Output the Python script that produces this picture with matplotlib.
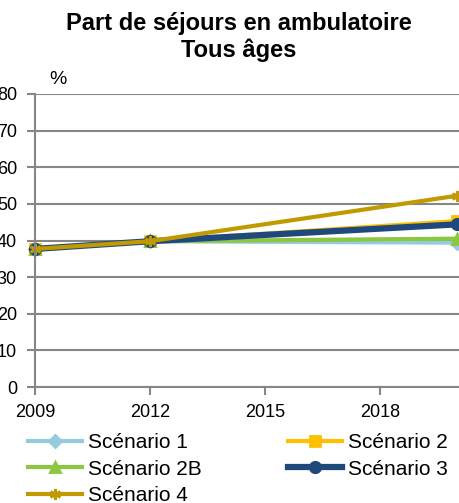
import matplotlib
matplotlib.use("Agg")
import matplotlib.pyplot as plt

plt.rcParams["font.family"] = ["Liberation Sans", "DejaVu Sans"]

years = [2009, 2012, 2020]
scenario_1 = [37.7, 39.8, 39.4]
scenario_2 = [37.7, 39.8, 45.3]
scenario_2b = [37.7, 39.8, 40.5]
scenario_3 = [37.7, 39.8, 44.4]
scenario_4 = [37.7, 39.8, 52.2]

labels = ["Scénario 1", "Scénario 2", "Scénario 2B", "Scénario 3", "Scénario 4"]
yticks = [0, 10, 20, 30, 40, 50, 60, 70, 80]
xticks = [2009, 2012, 2015, 2018]

W, H = 459, 503
fig = plt.figure(figsize=(W / 100, H / 100), dpi=100)
ax = fig.add_axes([35 / W, 1 - 387 / H, 1 - 35 / W, (387 - 94) / H])

grid_c = "#868686"
series = [
    (scenario_1, "#93CDDD", "D", 3.0, 6),
    (scenario_2, "#FFC000", "s", 3.0, 6.5),
    (scenario_2b, "#8DC63F", "^", 3.0, 7),
    (scenario_3, "#1F497D", "o", 4.5, 7.5),
    (scenario_4, "#C09A00", (6, 2, 0), 3.0, 8),
]
handles = []
for (vals, col, mk, lw, ms), lab in zip(series, labels):
    h, = ax.plot(years, vals, color=col, lw=lw, marker=mk, ms=ms,
                 mfc=col, mec=col, mew=2, label=lab, clip_on=False)
    handles.append(h)

ax.set_ylim(0, 80)
ax.set_xlim(2009, 2009 + (W - 35) / (115 / 3))
ax.set_yticks(yticks)
ax.set_xticks(xticks)
ax.yaxis.grid(True, color=grid_c, lw=1.5)
ax.set_axisbelow(True)
for s in ["top", "right"]:
    ax.spines[s].set_visible(False)
for s in ["left", "bottom"]:
    ax.spines[s].set_color(grid_c)
    ax.spines[s].set_linewidth(1.5)
ax.tick_params(axis="both", direction="out", length=6, width=1.5,
               color=grid_c, labelsize=13, labelcolor="black")
ax.tick_params(axis="y", pad=7)
ax.tick_params(axis="x", pad=6)

fig.text(58 / W, 1 - 80 / H, "%", fontsize=14, ha="center", va="center")
fig.text(239 / W, 1 - 12 / H, "Part de séjours en ambulatoire\nTous âges",
         fontsize=17, fontweight="bold", ha="center", va="top",
         linespacing=1.18)

order = [0, 2, 4, 1, 3]
fig.legend([handles[i] for i in order], [labels[i] for i in order],
           ncol=2, loc="upper left", bbox_to_anchor=(28 / W, 1 - 433 / H),
           frameon=False, fontsize=15, handlelength=2.6, handletextpad=0.3,
           columnspacing=4.1, labelspacing=0.37, borderaxespad=0,
           borderpad=0)

fig.savefig("out.png", dpi=100)
